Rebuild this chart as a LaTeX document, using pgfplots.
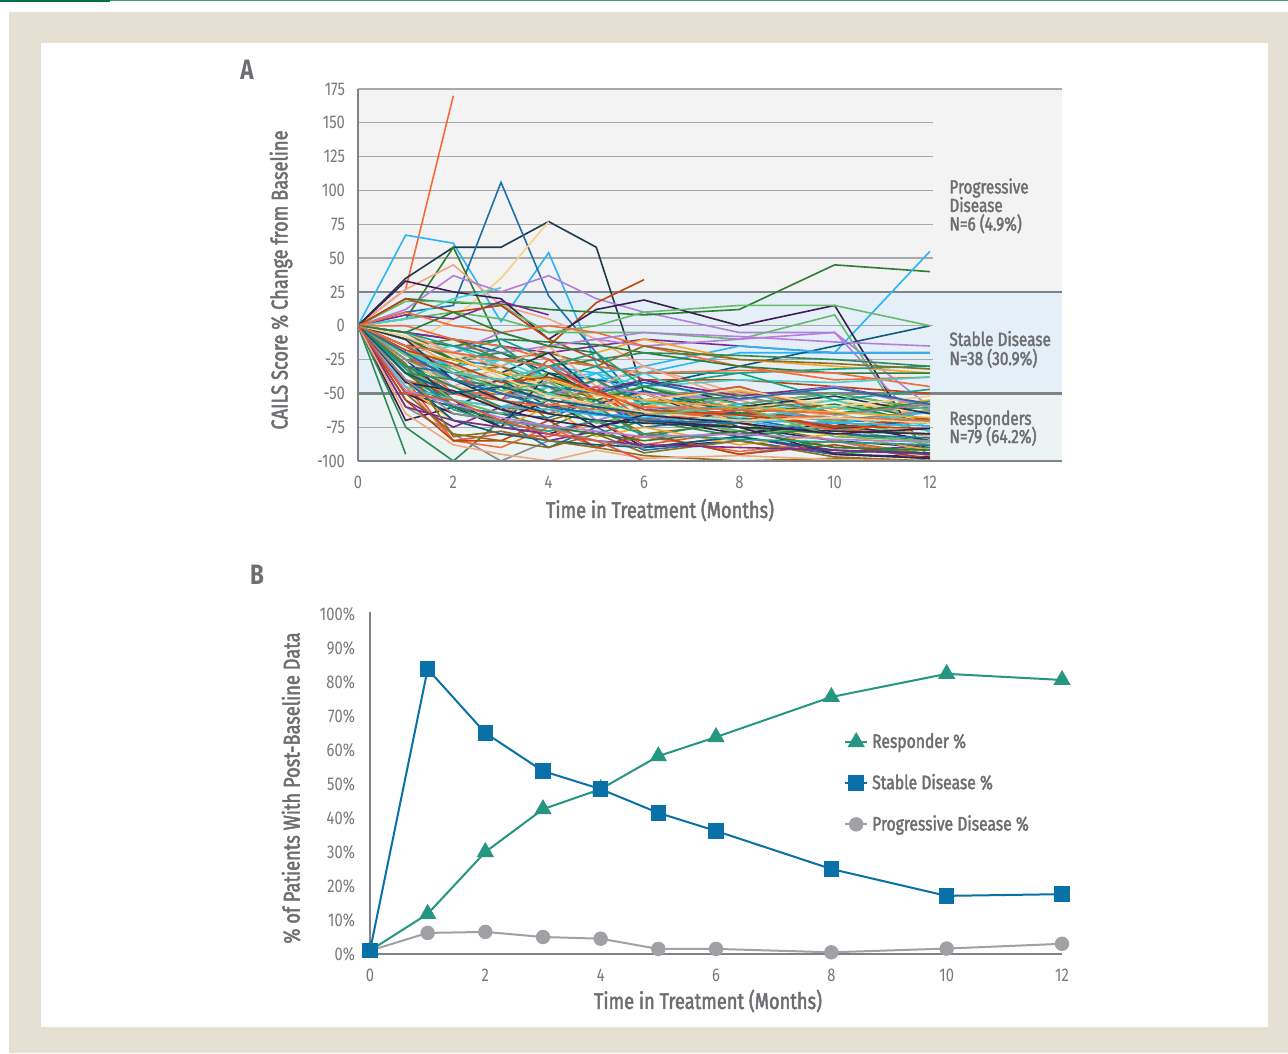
\documentclass[border=0pt]{standalone}
\usepackage{fontspec}
\setmainfont{Fira Sans}[FakeStretch=0.8]
\newfontfamily\medfont{Fira Sans}[FakeStretch=0.8,FakeBold=2]
\usepackage{pgfplots}
\pgfplotsset{compat=1.18}
\definecolor{beige}{HTML}{E6E0D4}
\definecolor{dkgreen}{HTML}{00704A}
\definecolor{ltgreen}{HTML}{3E9E78}
\definecolor{labc}{HTML}{6D6E71}
\definecolor{tickc}{HTML}{77787B}
\definecolor{pdbg}{HTML}{F3F3F3}
\definecolor{sdbg}{HTML}{E5EFF7}
\definecolor{rbg}{HTML}{ECF4F3}
\definecolor{gridc}{HTML}{A7A9AC}
\definecolor{axc}{HTML}{808285}
\definecolor{respc}{HTML}{25967F}
\definecolor{sdc}{HTML}{0A70A8}
\definecolor{pdc}{HTML}{A0A1A4}
\definecolor{s1}{HTML}{1F6FA8}
\definecolor{s2}{HTML}{2E7D32}
\definecolor{s3}{HTML}{F26B3A}
\definecolor{s4}{HTML}{29B6F6}
\definecolor{s5}{HTML}{7B2D8E}
\definecolor{s6}{HTML}{F5A623}
\definecolor{s7}{HTML}{1D3B4F}
\definecolor{s8}{HTML}{16A085}
\definecolor{s9}{HTML}{C1440E}
\definecolor{s10}{HTML}{B57EDC}
\definecolor{s11}{HTML}{F7CF87}
\definecolor{s12}{HTML}{8B6F1E}
\definecolor{s13}{HTML}{66BB6A}
\definecolor{s14}{HTML}{F4A582}
\definecolor{s15}{HTML}{3C1F4F}
\definecolor{s16}{HTML}{2E8B57}
\definecolor{s17}{HTML}{48D1CC}
\definecolor{s18}{HTML}{8C8C8C}
\definecolor{s19}{HTML}{0E5A7A}
\definecolor{s20}{HTML}{E5533A}
\pgfplotscreateplotcyclelist{spag}{s1\\s2\\s3\\s4\\s5\\s6\\s7\\s8\\s9\\s10\\s11\\s12\\s13\\s14\\s15\\s16\\s17\\s18\\s19\\s20\\}
\newcommand\R[9]{\addplot+[no markers] coordinates {(0,0)(1,#1)(2,#2)(3,#3)(4,#4)(5,#5)(6,#6)(8,#7)(10,#8)(12,#9)};}
\newcommand\tickfont{\fontsize{9.2}{11}\selectfont}
\newcommand\labfont{\medfont\fontsize{11.4}{13}\selectfont}
\newcommand\annfont{\medfont\fontsize{9.6}{12}\selectfont}
\begin{document}
\begin{tikzpicture}
\useasboundingbox (0,0) rectangle (1288*0.5pt,-1053*0.5pt);
\begin{scope}[x=0.5pt,y=-0.5pt]
\fill[white] (0,0) rectangle (1288,1053);
\fill[beige] (9,12) rectangle (1288,1053);
\fill[white] (41,43) rectangle (1268,1027);
\fill[dkgreen] (0,0) rectangle (110,2);
\fill[ltgreen] (110,0) rectangle (1288,1.5);
\node[font=\bfseries\fontsize{14}{16}\selectfont, text=labc] at (247,70) {A};
\node[font=\bfseries\fontsize{14}{16}\selectfont, text=labc] at (257,575) {B};
\end{scope}
% ---------------- Panel A ----------------
\begin{axis}[at={(358*0.5pt,-461*0.5pt)}, anchor=south west, scale only axis,
  width=352pt, height=186pt, xmin=0, xmax=14.77, ymin=-100, ymax=175,
  axis line style={draw=none}, major tick length=0pt, clip=false,
  xtick={0,2,4,6,8,10,12}, xticklabels={0,2,4,6,8,10,12},
  ytick={-100,-75,-50,-25,0,25,50,75,100,125,150,175},
  yticklabels={-100,-75,-50,-25,0,25,50,75,100,125,150,175},
  tick label style={font=\tickfont, text=tickc},
  yticklabel style={anchor=east, xshift=-3pt},
  xticklabel style={anchor=north, yshift=-4pt},
  cycle list name=spag,
  every axis plot/.append style={line width=0.8pt}]
\fill[pdbg] (axis cs:0,25) rectangle (axis cs:14.77,175);
\fill[sdbg] (axis cs:0,-50) rectangle (axis cs:14.77,25);
\fill[rbg] (axis cs:0,-100) rectangle (axis cs:14.77,-50);
\pgfplotsinvokeforeach{150,125,100,75,50,0,-25,-75}{
  \draw[gridc, line width=0.6pt] (axis cs:0,#1) -- (axis cs:12.06,#1);
}
\draw[gridc, line width=0.6pt] (axis cs:0,175) -- (axis cs:14.77,175);
\draw[axc, line width=1.4pt] (axis cs:0,25) -- (axis cs:14.77,25);
\draw[axc, line width=1.4pt] (axis cs:0,-50) -- (axis cs:14.77,-50);
% outlying / non-responding courses
\addplot[s3] coordinates {(0,0)(1,27)(2,170)};
\addplot[s4] coordinates {(0,0)(1,67)(2,61)(3,3)(4,54)(5,-28)(6,-62)(8,-70)(10,-80)(12,-85)};
\addplot[s7] coordinates {(0,0)(1,35)(2,58)(3,58)(4,77)(5,58)(6,-50)(8,-75)(10,-85)(12,-90)};
\addplot[s1] coordinates {(0,0)(1,10)(2,15)(3,106)(4,22)(5,-20)(6,-60)(8,-65)(10,-70)(12,-72)};
\addplot[s11] coordinates {(0,0)(1,-15)(2,5)(3,35)(4,77)};
\addplot[s2] coordinates {(0,0)(1,5)(2,58)(3,-15)(4,-40)(5,-55)(6,-70)(8,-75)(10,-80)(12,-85)};
\addplot[s14] coordinates {(0,0)(1,27)(2,45)(3,15)(4,5)(5,-10)(6,-30)(8,-50)(10,-60)(12,-65)};
\addplot[s10] coordinates {(0,0)(1,12)(2,37)(3,25)(4,37)(5,20)(6,10)(8,-5)(10,-5)(12,-60)};
\addplot[s9] coordinates {(0,0)(1,-10)(2,-25)(3,-30)(4,-15)(5,17)(6,34)};
\addplot[s2] coordinates {(0,0)(1,20)(2,17)(3,16)(4,12)(5,10)(6,8)(8,12)(10,45)(12,40)};
\addplot[s4] coordinates {(0,0)(1,-20)(2,-35)(3,-50)(4,-30)(5,-40)(6,-35)(8,-20)(10,-20)(12,55)};
\addplot[s15] coordinates {(0,0)(1,33)(2,25)(3,20)(4,-10)(5,12)(6,19)(8,0)(10,15)(12,-100)};
\addplot[s16] coordinates {(0,0)(1,-95)};
\addplot[s19] coordinates {(0,0)(1,-5)(2,-10)(3,-20)(4,-35)(5,-40)(6,-45)(8,-30)(10,-15)(12,0)};
\addplot[s13] coordinates {(0,0)(1,5)(2,10)(3,5)(4,-5)(5,-5)(6,-5)(8,-10)(10,8)(12,-100)};
\addplot[s13] coordinates {(0,0)(1,18)(2,18)(3,15)(4,-5)(5,0)(6,10)(8,15)(10,15)(12,0)};
\addplot[s5] coordinates {(0,0)(1,8)(2,5)(3,18)(4,8)};
\addplot[s5] coordinates {(0,0)(1,-5)(2,-10)(3,-15)(4,-20)(5,-15)(6,-10)(8,-15)(10,-20)(12,-20)};
\addplot[s10] coordinates {(0,0)(1,-10)(2,-15)(3,-20)(4,-15)(5,-10)(6,-15)(8,-10)(10,-5)(12,-80)};
\addplot[s4] coordinates {(0,0)(1,-20)(2,-30)(3,-25)(4,-30)(5,-35)(6,-30)(8,-15)(10,-20)(12,-20)};
\addplot[s17] coordinates {(0,0)(1,5)(2,20)(3,28)};
\addplot[s6] coordinates {(0,0)(1,-15)(2,-20)(3,-25)(4,-30)(5,-20)(6,-10)(8,-25)(10,-30)(12,-35)};
\addplot[s9] coordinates {(0,0)(1,20)(2,10)(3,15)(4,-10)(5,-25)(6,-40)(8,-40)(10,-45)(12,-50)};
\addplot[s3] coordinates {(0,0)(1,10)(2,0)(3,-5)(4,0)(5,-5)(6,-15)(8,-30)(10,-40)(12,-38)};
\addplot[s2] coordinates {(0,0)(1,-10)(2,-15)(3,-10)(4,-12)(5,-14)(6,-20)(8,-30)(10,-35)(12,-35)};
\addplot[s8] coordinates {(0,0)(1,-5)(2,-20)(3,-10)(4,-25)(5,-30)(6,-35)(8,-35)(10,-32)(12,-30)};
\addplot[s10] coordinates {(0,0)(1,-10)(2,-20)(3,-5)(4,-15)(5,-10)(6,-5)(8,-8)(10,-12)(12,-15)};
\addplot[s16] coordinates {(0,0)(1,-5)(2,-25)(3,-20)(4,-30)(5,-25)(6,-20)(8,-22)(10,-25)(12,-30)};
\addplot[s12] coordinates {(0,0)(1,-15)(2,-10)(3,-25)(4,-20)(5,-30)(6,-15)(8,-25)(10,-28)(12,-32)};
\addplot[s3] coordinates {(0,0)(1,0)(2,-10)(3,-15)(4,-25)(5,-30)(6,-35)(8,-33)(10,-35)(12,-45)};
\addplot[s17] coordinates {(0,0)(1,-20)(2,-15)(3,-30)(4,-40)(5,-35)(6,-45)(8,-40)(10,-42)(12,-38)};
% responders and short courses
\R{-30}{-50}{-40}{-70}{-60}{-80}{-72}{-85}{-95}
\R{-40}{-55}{-65}{-45}{-70}{-60}{-80}{-75}{-88}
\R{-25}{-45}{-30}{-55}{-40}{-65}{-55}{-72}{-62}
\R{-70}{-60}{-75}{-80}{-70}{-90}{-85}{-95}{-97}
\R{-75}{-100}{-70}{-75}{-80}{-70}{-82}{-75}{-80}
\R{-35}{-50}{-55}{-45}{-65}{-55}{-72}{-65}{-78}
\R{-60}{-80}{-100}{-85}{-90}{-80}{-95}{-85}{-100}
\R{-50}{-60}{-45}{-65}{-55}{-72}{-64}{-76}{-70}
\R{-40}{-85}{-80}{-82}{-70}{-88}{-78}{-90}{-92}
\R{-30}{-60}{-70}{-90}{-75}{-92}{-85}{-95}{-98}
\R{-20}{-35}{-45}{-30}{-55}{-45}{-62}{-55}{-70}
\R{-45}{-85}{-90}{-75}{-90}{-82}{-93}{-85}{-96}
\R{-15}{-30}{-40}{-50}{-35}{-58}{-48}{-65}{-58}
\R{-55}{-75}{-60}{-85}{-78}{-90}{-82}{-94}{-88}
\R{-20}{-40}{-50}{-35}{-55}{-60}{-48}{-62}{-55}
\R{-10}{-25}{-35}{-20}{-50}{-40}{-58}{-50}{-62}
\R{-25}{-30}{-15}{-40}{-30}{-55}{-45}{-65}{-60}
\R{-35}{-55}{-60}{-65}{-50}{-70}{-62}{-75}{-68}
\R{-20}{-45}{-55}{-40}{-70}{-60}{-78}{-70}{-82}
\R{-10}{-30}{-40}{-55}{-45}{-65}{-60}{-55}{-65}
\R{-25}{-35}{-30}{-45}{-60}{-50}{-70}{-60}{-72}
\R{-30}{-40}{-45}{-35}{-52}{-45}{-58}{-50}{-62}
\R{-5}{-20}{-30}{-15}{-45}{-30}{-55}{-45}{-60}
\R{-50}{-65}{-70}{-55}{-75}{-68}{-80}{-72}{-85}
\R{-20}{-60}{-65}{-75}{-60}{-82}{-70}{-95}{-90}
\R{-15}{-40}{-25}{-40}{-50}{-35}{-65}{-55}{-75}
\R{-35}{-45}{-50}{-55}{-40}{-65}{-58}{-70}{-63}
\R{-30}{-50}{-40}{-60}{-58}{-48}{-65}{-68}{-70}
\R{-20}{-50}{-55}{-25}{-50}{-55}{-45}{-65}{-58}
\R{-40}{-60}{-65}{-68}{-55}{-75}{-68}{-80}{-83}
\R{-10}{-25}{-35}{-50}{-55}{-45}{-65}{-58}{-72}
\R{-35}{-45}{-55}{-65}{-50}{-72}{-62}{-78}{-70}
\R{-30}{-55}{-60}{-50}{-65}{-68}{-58}{-72}{-64}
\R{-15}{-35}{-40}{-30}{-48}{-40}{-52}{-45}{-58}
\R{-45}{-70}{-75}{-60}{-82}{-75}{-88}{-80}{-92}
\R{-25}{-55}{-75}{-35}{-50}{-55}{-60}{-52}{-65}
\R{-5}{-15}{-25}{-30}{-20}{-45}{-35}{-55}{-47}
\R{-55}{-85}{-85}{-70}{-90}{-80}{-95}{-88}{-98}
\R{-20}{-40}{-45}{-50}{-45}{-50}{-55}{-45}{-60}
\R{-25}{-45}{-50}{-38}{-52}{-55}{-47}{-60}{-52}
\R{-50}{-80}{-85}{-90}{-80}{-94}{-85}{-97}{-100}
\R{-30}{-55}{-65}{-55}{-72}{-65}{-78}{-70}{-82}
\R{-10}{-30}{-45}{-50}{-60}{-50}{-72}{-65}{-82}
\R{-20}{-40}{-50}{-60}{-65}{-70}{-75}{-95}{-98}
\R{-35}{-40}{-45}{-50}{-40}{-58}{-52}{-65}{-56}
\R{-45}{-55}{-60}{-50}{-64}{-56}{-68}{-60}{-72}
\R{-25}{-40}{-50}{-55}{-60}{-65}{-52}{-66}{-58}
\R{-40}{-70}{-80}{-85}{-88}{-90}{-82}{-92}{-94}
\R{-15}{-35}{-55}{-60}{-45}{-70}{-62}{-77}{-80}
\R{-30}{-35}{-40}{-45}{-50}{-42}{-54}{-46}{-58}
\R{-35}{-60}{-70}{-75}{-80}{-85}{-78}{-90}{-92}
\R{-40}{-50}{-60}{-58}{-62}{-64}{-66}{-68}{-70}
\R{-30}{-45}{-60}{-62}{-66}{-68}{-70}{-72}{-74}
\R{-60}{-70}{-75}{-80}{-85}{-88}{-90}{-92}{-95}
\R{-20}{-25}{-35}{-40}{-50}{-55}{-60}{-64}{-68}
\R{-10}{-40}{-55}{-65}{-70}{-72}{-75}{-78}{-80}
\R{-32}{-62}{-72}{-78}{-70}{-80}{-84}{-86}{-88}
\R{-18}{-28}{-42}{-38}{-48}{-62}{-66}{-74}{-76}
\R{-48}{-58}{-68}{-74}{-78}{-82}{-80}{-84}{-86}
\R{-8}{-22}{-38}{-52}{-58}{-64}{-70}{-68}{-72}
\R{-28}{-82}{-78}{-85}{-90}{-96}{-100}{-98}{-100}
\R{-22}{-32}{-48}{-42}{-58}{-66}{-60}{-82}{-85}
\R{-65}{-88}{-95}{-100}{-92}{-98}{-96}{-99}{-100}
\R{-42}{-48}{-62}{-70}{-75}{-66}{-72}{-80}{-76}
\addplot+[no markers] coordinates {(0,0)(1,-30)(2,-45)(3,-60)};
\addplot+[no markers] coordinates {(0,0)(1,-20)(2,-35)(3,-40)(4,-30)};
\addplot+[no markers] coordinates {(0,0)(1,-40)(2,-65)(3,-70)(4,-75)(5,-85)(6,-90)};
\addplot+[no markers] coordinates {(0,0)(1,-35)(2,-50)(3,-45)(4,-55)(5,-60)(6,-65)};
\addplot+[no markers] coordinates {(0,0)(1,-50)(2,-55)(3,-70)(4,-80)(5,-85)(6,-100)};
\addplot+[no markers] coordinates {(0,0)(1,-20)(2,-40)(3,-50)(4,-60)(5,-65)(6,-70)(8,-72)};
\addplot+[no markers] coordinates {(0,0)(1,-5)(2,10)(3,-5)(4,-15)(5,-20)};
\addplot+[no markers] coordinates {(0,0)(1,-15)(2,-20)(3,-25)(4,-30)(5,-50)(6,-60)(8,-62)(10,-65)};
\draw[axc, line width=1.4pt] (axis cs:0,-100) -- (axis cs:14.77,-100);
\draw[axc, line width=1.4pt] (axis cs:0,-100) -- (axis cs:0,175);
\end{axis}
% ---------------- Panel B ----------------
\begin{axis}[at={(370*0.5pt,-954*0.5pt)}, anchor=south west, scale only axis,
  width=346pt, height=170pt, xmin=0, xmax=12, ymin=0, ymax=100,
  axis line style={draw=none}, major tick length=0pt, clip=false,
  xtick={0,2,4,6,8,10,12}, xticklabels={0,2,4,6,8,10,12},
  ytick={0,10,...,100},
  yticklabels={0\%,10\%,20\%,30\%,40\%,50\%,60\%,70\%,80\%,90\%,100\%},
  tick label style={font=\tickfont, text=tickc},
  yticklabel style={anchor=east, xshift=-4pt},
  xticklabel style={anchor=north, yshift=-4pt},
  legend style={at={(0.676,0.674)}, anchor=north west, draw=none, fill=none,
    font=\medfont\fontsize{9.8}{11}\selectfont, text=labc, row sep=7.5pt,
    /tikz/every even column/.append style={column sep=2pt}},
  legend cell align=left,
  legend image code/.code={\draw[#1, mark=none] (0pt,0pt) -- (11pt,0pt);
    \draw[#1, only marks] plot coordinates {(5.5pt,0pt)};}]
\draw[axc, line width=1.2pt] (axis cs:0,0) -- (axis cs:0,100.6);
\draw[axc, line width=1.2pt] (axis cs:0,0) -- (axis cs:12,0);
\addlegendimage{respc, line width=1pt, mark=triangle*, mark size=4pt}
\addlegendentry{Responder \%}
\addlegendimage{sdc, line width=1pt, mark=square*, mark size=3.4pt}
\addlegendentry{Stable Disease \%}
\addlegendimage{pdc, line width=1pt, mark=*, mark size=3.1pt}
\addlegendentry{Progressive Disease \%}
\addplot[forget plot, pdc, line width=1pt, mark=*, mark size=3.1pt] coordinates {(0,1)(1,6.2)(2,6.5)(3,5)(4,4.5)(5,1.5)(6,1.5)(8,0.5)(10,1.6)(12,3)};
\addplot[forget plot, respc, line width=1pt, mark=triangle*, mark size=4pt] coordinates {(0,1)(1,11.8)(2,30)(3,42.6)(4,48.5)(5,58.2)(6,63.8)(8,75.6)(10,82.4)(12,80.6)};
\addplot[forget plot, sdc, line width=1pt, mark=square*, mark size=3.4pt] coordinates {(0,1)(1,83.8)(2,65)(3,53.8)(4,48.5)(5,41.5)(6,36.2)(8,25)(10,17.1)(12,17.6)};
\end{axis}
\begin{scope}[x=0.5pt,y=-0.5pt]
\node[font=\labfont, text=labc, rotate=90] at (281,280) {CAILS Score \% Change from Baseline};
\node[font=\labfont, text=labc] at (660,510) {Time in Treatment (Months)};
\node[font=\labfont, text=labc, rotate=90] at (291,788) {\% of Patients With Post-Baseline Data};
\node[font=\labfont, text=labc] at (708,1001) {Time in Treatment (Months)};
\node[font=\annfont, text=labc, anchor=base west, inner sep=0pt] at (949,193.5) {Progressive};
\node[font=\annfont, text=labc, anchor=base west, inner sep=0pt] at (949,212) {Disease};
\node[font=\annfont, text=labc, anchor=base west, inner sep=0pt] at (949,230.5) {N=6 (4.9\%)};
\node[font=\annfont, text=labc, anchor=base west, inner sep=0pt] at (949,346) {Stable Disease};
\node[font=\annfont, text=labc, anchor=base west, inner sep=0pt] at (949,365) {N=38 (30.9\%)};
\node[font=\annfont, text=labc, anchor=base west, inner sep=0pt] at (949,425) {Responders};
\node[font=\annfont, text=labc, anchor=base west, inner sep=0pt] at (949,443) {N=79 (64.2\%)};
\end{scope}
\end{tikzpicture}
\end{document}
